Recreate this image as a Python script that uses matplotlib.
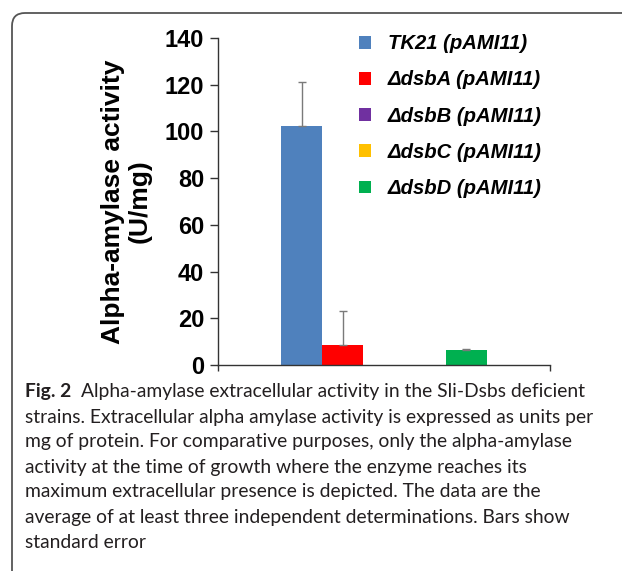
import matplotlib
matplotlib.use("Agg")
import matplotlib.pyplot as plt
from matplotlib.patches import FancyBboxPatch, Patch

strains = ["TK21 (pAMI11)", "\u0394dsbA (pAMI11)", "\u0394dsbB (pAMI11)",
           "\u0394dsbC (pAMI11)", "\u0394dsbD (pAMI11)"]
activity = [102.5, 8.5, 0, 0, 6.6]
std_err = [18.5, 14.6, 0, 0, 0.3]
colors = ["#4F81BD", "#FF0000", "#7030A0", "#FFC000", "#00B050"]
yticks = [0, 20, 40, 60, 80, 100, 120, 140]

caption_head = "Fig. 2"
caption_lines = [
    "Alpha-amylase extracellular activity in the Sli-Dsbs deficient",
    "strains. Extracellular alpha amylase activity is expressed as units per",
    "mg of protein. For comparative purposes, only the alpha-amylase",
    "activity at the time of growth where the enzyme reaches its",
    "maximum extracellular presence is depicted. The data are the",
    "average of at least three independent determinations. Bars show",
    "standard error",
]

W, H = 622, 571
fig = plt.figure(figsize=(W / 100, H / 100), dpi=100)

# frame round the figure panel (top-left corner only visible)
frame = FancyBboxPatch((12, -60), 700, H - 13 + 60, boxstyle="round,pad=0,rounding_size=13",
                       transform=None, fill=False, edgecolor="#555555", linewidth=1.3)
fig.patches.append(frame)

ax = fig.add_axes([218 / W, (H - 365) / H, (550 - 218) / W, (365 - 38) / H])

bw = 0.124
n = len(strains)
handles = []
for i in range(n):
    x = (i - (n - 1) / 2) * bw
    ax.bar(x, activity[i], width=bw, color=colors[i], edgecolor="none")
    if std_err[i] > 0:
        ax.errorbar(x, activity[i], yerr=[[0], [std_err[i]]], fmt="none",
                    ecolor="#7a7a7a", elinewidth=1, capsize=2.6, capthick=1)
    handles.append(Patch(facecolor=colors[i], edgecolor="none", label=strains[i]))

ax.set_xlim(-0.5, 0.5)
ax.set_ylim(0, 140)
ax.set_yticks(yticks)
ax.set_xticks([-0.5, 0.5])
ax.set_xticklabels([])
for s in ["top", "right"]:
    ax.spines[s].set_visible(False)
for s in ["left", "bottom"]:
    ax.spines[s].set_color("#333333")
    ax.spines[s].set_linewidth(1)
ax.tick_params(axis="y", direction="out", length=6, width=1, color="#333333", pad=4)
ax.tick_params(axis="x", direction="out", length=4, width=1, color="#333333")
for lab in ax.get_yticklabels():
    lab.set_fontfamily("Liberation Sans")
    lab.set_fontweight("bold")
    lab.set_fontsize(17)

ax.set_ylabel("Alpha-amylase activity\n(U/mg)", fontfamily="Liberation Sans",
              fontweight="bold", fontsize=19, linespacing=1.15, labelpad=9)

leg = ax.legend(handles=handles, loc="upper left", bbox_to_anchor=(341 / W, (H - 16) / H),
                bbox_transform=fig.transFigure, frameon=False, handlelength=0.6,
                handleheight=0.6, handletextpad=0.8, labelspacing=0.85,
                prop={"family": "Liberation Sans", "weight": "bold", "style": "italic", "size": 14.6})

# caption
cap_font = "Lato"
cap_size = 13.9
y0 = H - 392
renderer = fig.canvas.get_renderer()
head = fig.text(25 / W, y0 / H, caption_head, fontfamily=cap_font, fontweight="bold",
                fontsize=cap_size, va="center", ha="left", color="#231f20")
bb = head.get_window_extent(renderer)
fig.text((bb.x1 + 10) / W, y0 / H, caption_lines[0], fontfamily=cap_font,
         fontsize=cap_size, va="center", ha="left", color="#231f20")
for k, line in enumerate(caption_lines[1:], start=1):
    fig.text(25 / W, (y0 - 25 * k) / H, line, fontfamily=cap_font,
             fontsize=cap_size, va="center", ha="left", color="#231f20")

fig.savefig("out.png", dpi=100)
